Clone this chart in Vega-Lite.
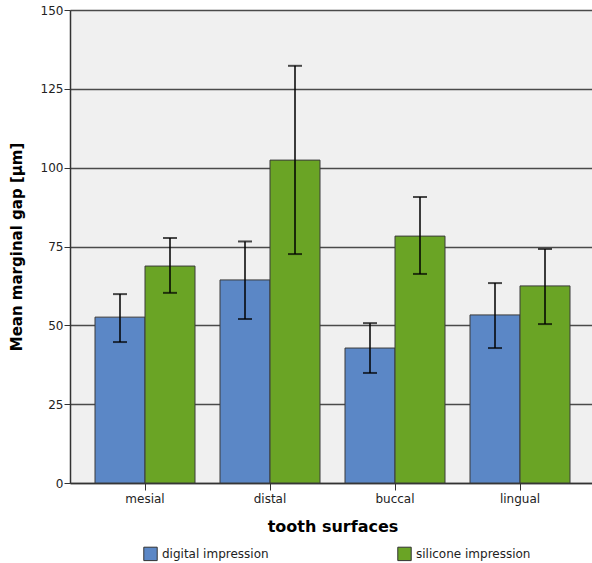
{
  "$schema": "https://vega.github.io/schema/vega-lite/v6.json",
  "width": 525,
  "height": 473,
  "autosize": {"type": "none"},
  "padding": {"left": 70, "top": 10, "right": 0, "bottom": 80},
  "background": "white",
  "config": {
    "font": "DejaVu Sans",
    "view": {"fill": "#f0f0f0", "stroke": null},
    "axis": {"labelFont": "DejaVu Sans", "titleFont": "DejaVu Sans", "labelColor": "#222", "titleColor": "black"}
  },
  "data": {
    "values": [
      {"surface": "mesial", "method": "digital impression", "mean": 52.6, "lo": 44.7, "hi": 59.9},
      {"surface": "mesial", "method": "silicone impression", "mean": 68.8, "lo": 60.3, "hi": 77.7},
      {"surface": "distal", "method": "digital impression", "mean": 64.4, "lo": 52.0, "hi": 76.6},
      {"surface": "distal", "method": "silicone impression", "mean": 102.4, "lo": 72.6, "hi": 132.3},
      {"surface": "buccal", "method": "digital impression", "mean": 42.8, "lo": 34.9, "hi": 50.7},
      {"surface": "buccal", "method": "silicone impression", "mean": 78.3, "lo": 66.3, "hi": 90.7},
      {"surface": "lingual", "method": "digital impression", "mean": 53.3, "lo": 42.8, "hi": 63.4},
      {"surface": "lingual", "method": "silicone impression", "mean": 62.5, "lo": 50.4, "hi": 74.2}
    ]
  },
  "encoding": {
    "x": {
      "field": "surface", "type": "nominal", "sort": ["mesial", "distal", "buccal", "lingual"],
      "scale": {"paddingInner": 0.2, "paddingOuter": 0.2},
      "axis": {
        "title": "tooth surfaces", "titleFontSize": 16, "titleFontWeight": "bold", "titlePadding": 14,
        "labelAngle": 0, "labelFontSize": 12, "labelPadding": 3, "tickSize": 7, "tickColor": "#333",
        "domainColor": "#333", "domainWidth": 1.5, "grid": false
      }
    },
    "xOffset": {"field": "method", "type": "nominal", "scale": {"paddingInner": 0, "paddingOuter": 0}}
  },
  "layer": [
    {
      "mark": {"type": "bar", "stroke": "#3a3a3a", "strokeWidth": 1},
      "encoding": {
        "y": {
          "field": "mean", "type": "quantitative", "scale": {"domain": [0, 150], "nice": false},
          "axis": {
            "title": "Mean marginal gap [µm]", "titleFontSize": 15, "titleFontWeight": "bold", "titlePadding": 16,
            "values": [0, 25, 50, 75, 100, 125, 150], "labelFontSize": 12, "labelPadding": 1, "tickSize": 6,
            "tickColor": "#333", "domainColor": "#333", "domainWidth": 1.5,
            "grid": true, "gridColor": "#4a4a4a", "gridWidth": 1.5, "gridOpacity": 1
          }
        },
        "color": {
          "field": "method", "type": "nominal",
          "scale": {"domain": ["digital impression", "silicone impression"], "range": ["#5b87c6", "#6aa425"]},
          "legend": {
            "title": null, "orient": "none", "legendX": 73, "legendY": 536, "direction": "horizontal", "symbolType": "square",
            "symbolSize": 180, "symbolStrokeColor": "#333", "symbolStrokeWidth": 1, "symbolOpacity": 1,
            "labelFontSize": 12, "labelColor": "#222", "columnPadding": 126, "labelOffset": 4
          }
        }
      }
    },
    {
      "mark": {"type": "rule", "color": "black", "strokeWidth": 1.5},
      "encoding": {
        "y": {"field": "lo", "type": "quantitative"},
        "y2": {"field": "hi"}
      }
    },
    {
      "mark": {"type": "tick", "color": "black", "size": 14, "thickness": 2},
      "encoding": {"y": {"field": "lo", "type": "quantitative"}}
    },
    {
      "mark": {"type": "tick", "color": "black", "size": 14, "thickness": 2},
      "encoding": {"y": {"field": "hi", "type": "quantitative"}}
    }
  ]
}
